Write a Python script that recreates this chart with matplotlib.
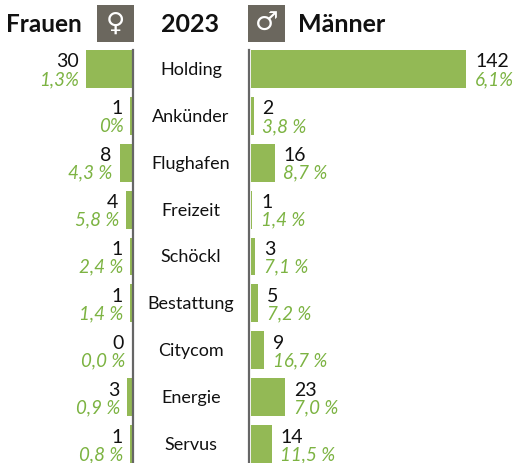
import matplotlib
matplotlib.use("Agg")
import matplotlib.pyplot as plt
from matplotlib.patches import Rectangle

categories = ["Holding", "Ankünder", "Flughafen", "Freizeit", "Schöckl", "Bestattung", "Citycom", "Energie", "Servus"]
frauen = [30, 1, 8, 4, 1, 1, 0, 3, 1]
maenner = [142, 2, 16, 1, 3, 5, 9, 23, 14]
frauen_pct = ["1,3%", "0%", "4,3 %", "5,8 %", "2,4 %", "1,4 %", "0,0 %", "0,9 %", "0,8 %"]
maenner_pct = ["6,1%", "3,8 %", "8,7 %", "1,4 %", "7,1 %", "7,2 %", "16,7 %", "7,0 %", "11,5 %"]

W, H = 515, 463
GREEN = "#93b955"
TEXT_GREEN = "#7cb342"
GREY = "#6b675e"
FONT = "Lato"
PX = 72 / 100
SCALE = 1.52  # px per person

fig = plt.figure(figsize=(W / 100, H / 100), dpi=100)


def make_axes(x0, x1, y0=50, y1=463):
    return fig.add_axes([x0 / W, 1 - y1 / H, (x1 - x0) / W, (y1 - y0) / H])


ax_l = make_axes(0, 132)
ax_m = make_axes(134, 248)
ax_r = make_axes(250.5, W)
ylim = (8.405, -0.405)

ax_l.barh(range(9), frauen, height=0.81, color=GREEN)
ax_r.barh(range(9), maenner, height=0.81, color=GREEN)
ax_l.set_xlim(132 / SCALE, 0)
ax_r.set_xlim(0, (W - 250.5) / SCALE)

for ax in (ax_l, ax_m, ax_r):
    ax.set_ylim(*ylim)
    ax.axis("off")

for i, (v, p) in enumerate(zip(frauen, frauen_pct)):
    ax_l.annotate(str(v), (v, i), xytext=(-8 * PX, 7 * PX), textcoords="offset points",
                  ha="right", va="center", fontsize=14, family=FONT, color="#111111")
    ax_l.annotate(p, (v, i), xytext=(-7 * PX, -10.5 * PX), textcoords="offset points",
                  ha="right", va="center", fontsize=13.5, family=FONT, style="italic", color=TEXT_GREEN)

for i, (v, p) in enumerate(zip(maenner, maenner_pct)):
    ax_r.annotate(str(v), (v, i), xytext=(9 * PX, 7 * PX), textcoords="offset points",
                  ha="left", va="center", fontsize=14, family=FONT, color="#111111")
    ax_r.annotate(p, (v, i), xytext=(8.5 * PX, -10.5 * PX), textcoords="offset points",
                  ha="left", va="center", fontsize=13.5, family=FONT, style="italic", color=TEXT_GREEN)

for i, c in enumerate(categories):
    ax_m.annotate(c, (0.5, i), xycoords=ax_m.get_yaxis_transform(), xytext=(0, -1 * PX), textcoords="offset points",
                  ha="center", va="center", fontsize=13, family=FONT, color="#111111")

# centre lines
for x in (133, 249):
    fig.add_artist(plt.Line2D([x / W, x / W], [0, 1 - 50 / H], color="#666666", lw=1.6))

# header
for x in (97, 248):
    fig.add_artist(Rectangle((x / W, 1 - 42 / H), 37 / W, 37 / H, transform=fig.transFigure,
                             facecolor=GREY, edgecolor="none"))
fig.text(115.5 / W, 1 - 23.5 / H, "\u2640", ha="center", va="center", fontsize=19, color="white", family="DejaVu Sans")
fig.text(266.5 / W, 1 - 23.5 / H, "\u2642", ha="center", va="center", fontsize=19, color="white", family="DejaVu Sans")
fig.text(43.5 / W, 1 - 24.5 / H, "Frauen", ha="center", va="center", fontsize=17.5, fontweight="bold", family=FONT, color="#111111")
fig.text(190.5 / W, 1 - 24.5 / H, "2023", ha="center", va="center", fontsize=18, fontweight="bold", family=FONT, color="#111111")
fig.text(342 / W, 1 - 24.5 / H, "Männer", ha="center", va="center", fontsize=18, fontweight="bold", family=FONT, color="#111111")

fig.savefig("out.png", dpi=100)
